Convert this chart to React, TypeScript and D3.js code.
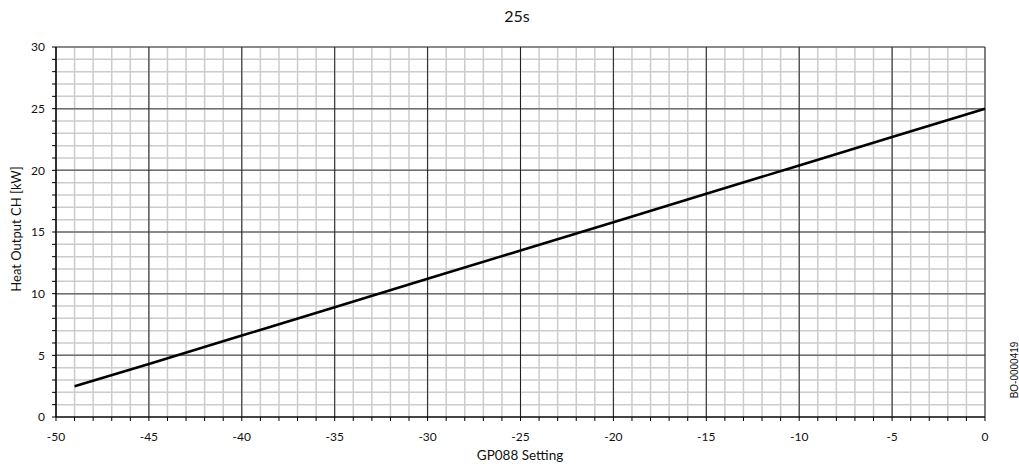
import React from "react";
import * as d3 from "d3";

const settings = [-49, -45, -40, -35, -30, -25, -20, -15, -10, -5, 0];
const heatOutput = [2.5, 4.3, 6.6, 8.9, 11.2, 13.5, 15.8, 18.1, 20.4, 22.7, 25];
const xTicks = [-50, -45, -40, -35, -30, -25, -20, -15, -10, -5, 0];
const yTicks = [0, 5, 10, 15, 20, 25, 30];
const title = "25s";
const xTitle = "GP088 Setting";
const yTitle = "Heat Output CH [kW]";
const docCode = "BO-0000419";

export default function App() {
  const W = 1019, H = 470;
  const left = 56, right = 985, top = 47, bottom = 417;
  const x = d3.scaleLinear().domain([-50, 0]).range([left, right]);
  const y = d3.scaleLinear().domain([0, 30]).range([bottom, top]);
  const minorX = d3.range(-50, 1, 1);
  const minorY = d3.range(0, 31, 1);
  const line = d3.line<number>().x((d, i) => x(settings[i])).y((d) => y(d));
  const font = "Lato, 'Open Sans', sans-serif";
  return (
    <svg width={W} height={H} style={{ position: "absolute", left: 0, top: 0 }}>
      <rect width={W} height={H} fill="#fff" />
      {minorX.map((v) => (
        <line key={"mx" + v} x1={x(v)} x2={x(v)} y1={top} y2={bottom} stroke="#cccccc" strokeWidth={1.5} />
      ))}
      {minorY.map((v) => (
        <line key={"my" + v} x1={left} x2={right} y1={y(v)} y2={y(v)} stroke="#cccccc" strokeWidth={1.5} />
      ))}
      {yTicks.map((v) => (
        <line key={"My" + v} x1={left} x2={right} y1={y(v)} y2={y(v)} stroke="#6e6e6e" strokeWidth={1.5} />
      ))}
      {xTicks.map((v) => (
        <line key={"Mx" + v} x1={x(v)} x2={x(v)} y1={top} y2={bottom} stroke="#222" strokeWidth={1} />
      ))}
      <line x1={left} x2={left} y1={top} y2={bottom} stroke="#000" strokeWidth={1.2} />
      <line x1={left} x2={right} y1={bottom} y2={bottom} stroke="#000" strokeWidth={1.2} />
      {minorY.map((v) => (
        <line key={"ty" + v} x1={left - 4} x2={left} y1={y(v)} y2={y(v)} stroke="#000" strokeWidth={1} />
      ))}
      {minorX.map((v) => (
        <line key={"tx" + v} x1={x(v)} x2={x(v)} y1={bottom} y2={bottom + 4} stroke="#000" strokeWidth={1} />
      ))}
      {yTicks.map((v) => (
        <text key={"yl" + v} x={left - 11} y={y(v)} dy="0.35em" textAnchor="end" fontFamily={font} fontSize={12} fill="#111">{v}</text>
      ))}
      {xTicks.map((v) => (
        <text key={"xl" + v} x={x(v)} y={bottom + 20} dy="0.35em" textAnchor="middle" fontFamily={font} fontSize={12} fill="#111">{v}</text>
      ))}
      <path d={line(heatOutput) || ""} fill="none" stroke="#000" strokeWidth={2.6} />
      <text x={517} y={22} textAnchor="middle" fontFamily={font} fontSize={16} fill="#111">{title}</text>
      <text x={520} y={460} textAnchor="middle" fontFamily={font} fontSize={13.5} fill="#111">{xTitle}</text>
      <text transform={`translate(21,${229}) rotate(-90)`} textAnchor="middle" fontFamily={font} fontSize={13} fill="#111">{yTitle}</text>
      <text transform={`translate(1018,${370}) rotate(-90)`} textAnchor="middle" fontFamily="'Liberation Sans', Arial, sans-serif" fontSize={10} fill="#111">{docCode}</text>
    </svg>
  );
}
